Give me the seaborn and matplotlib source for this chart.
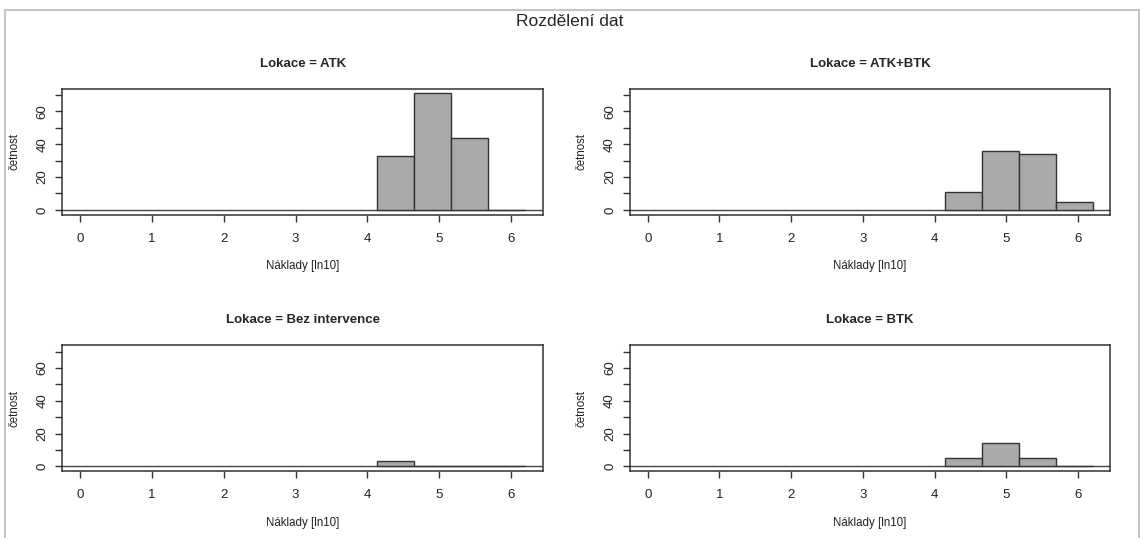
import numpy as np
import pandas as pd
import matplotlib
matplotlib.use("Agg")
import matplotlib.pyplot as plt
from matplotlib.lines import Line2D
import seaborn as sns

sns.set_style("white")
plt.rcParams['font.family'] = ['Liberation Sans', 'DejaVu Sans']

# hranice tříd histogramu (ln10 nákladů) a četnosti podle lokace
hranice = [4.14, 4.655, 5.17, 5.685, 6.2]
lokace = ["ATK", "ATK+BTK", "Bez intervence", "BTK"]
cetnost_atk = [33, 71, 44, 0]
cetnost_atk_btk = [11, 36, 34, 5]
cetnost_bez = [3, 0, 0, 0]
cetnost_btk = [5, 14, 5, 0]
x_ticks = [0, 1, 2, 3, 4, 5, 6]
y_ticks = [0, 10, 20, 30, 40, 50, 60, 70]
y_labels = ["0", "", "20", "", "40", "", "60", ""]

stredy = [(a + b) / 2 for a, b in zip(hranice[:-1], hranice[1:])]
df = pd.DataFrame({
    "Lokace": np.repeat(lokace, len(stredy)),
    "naklady": stredy * len(lokace),
    "cetnost": cetnost_atk + cetnost_atk_btk + cetnost_bez + cetnost_btk,
})

ymax = df["cetnost"].max()
xmax = hranice[-1]

fig, axes = plt.subplots(2, 2, figsize=(11.4, 5.38), dpi=100)
plt.subplots_adjust(left=0.0548, right=0.974, top=0.835, bottom=0.1245,
                    wspace=0.181, hspace=1.04)

for ax, lok in zip(axes.flat, lokace):
    sub = df[df["Lokace"] == lok]
    sns.histplot(data=sub, x="naklady", weights="cetnost", bins=hranice, ax=ax,
                 color="#aaaaaa", edgecolor="#333333", linewidth=1, alpha=1)
    ax.axhline(0, color="#444444", lw=1, zorder=0)
    ax.set_xlim(-0.04 * xmax, 1.04 * xmax)
    ax.set_ylim(-0.04 * ymax, 1.04 * ymax)
    ax.set_xticks(x_ticks)
    ax.set_yticks(y_ticks)
    ax.set_yticklabels(y_labels, rotation=90, va="center")
    ax.tick_params(axis="both", direction="out", length=5, width=1,
                   bottom=True, left=True, color="#333333",
                   labelsize=9.5, labelcolor="#222222")
    ax.tick_params(axis="x", pad=8)
    ax.tick_params(axis="y", pad=5)
    for s in ax.spines.values():
        s.set_color("#333333")
        s.set_linewidth(1.1)
    ax.set_title(f"Lokace = {lok}", fontsize=9.5, fontweight="bold", pad=16)
    ax.set_xlabel("Náklady [ln10]", fontsize=8.3, color="#222222")
    ax.xaxis.set_label_coords(0.5, -(266.7 - 215) / 126)
    ax.xaxis.label.set_va("center")
    ax.set_ylabel("četnost", fontsize=8.3, color="#222222")
    ax.yaxis.set_label_coords(-48 / 481, 0.5)
    ax.yaxis.label.set_va("center")

fig.suptitle("Rozdělení dat", fontsize=12.5, y=1 - 22 / 538, va="center")

# šedý rámeček kolem obrázku
for xs, ys in [([5 / 1140, 1139 / 1140], [1 - 10 / 538] * 2),
               ([5 / 1140] * 2, [0, 1 - 10 / 538]),
               ([1139 / 1140] * 2, [0, 1 - 10 / 538])]:
    fig.add_artist(Line2D(xs, ys, color="#c4c4c4", lw=1.5))

fig.savefig("out.png", dpi=100)
